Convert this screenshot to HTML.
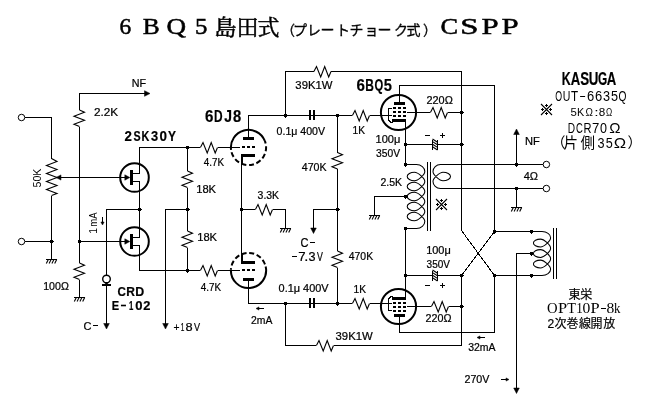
<!DOCTYPE html>
<html><head><meta charset="utf-8"><title>6BQ5 CSPP</title>
<style>html,body{margin:0;padding:0;background:#fff}svg{display:block}text{font-kerning:none}</style>
</head><body>
<svg width="650" height="420" viewBox="0 0 650 420">
<rect width="650" height="420" fill="#fff"/>
<g stroke="#000" stroke-width="1" fill="none" shape-rendering="crispEdges">
<path d="M25,117.5 L51.5,117.5 L51.5,158.5"/>
<path d="M51.5,158.5 L57,161.5 L46.5,165.5 L57,169.5 L46.5,173.5 L57,177.5 L46.5,181.5 L57,185.5 L46.5,189.5 L57,193.5 L51.5,195.5" shape-rendering="geometricPrecision" stroke-width="1.1" stroke-linejoin="miter"/>
<path d="M51.5,195.5 L51.5,259.5"/>
<path d="M25,241.5 L51.5,241.5"/>
<path d="M46,259.5 L57,259.5"/>
<path d="M48.3,259.5 L46.3,263.5" shape-rendering="geometricPrecision" stroke-width="1.1" stroke-linejoin="miter"/>
<path d="M51.1,259.5 L49.1,263.5" shape-rendering="geometricPrecision" stroke-width="1.1" stroke-linejoin="miter"/>
<path d="M53.9,259.5 L51.9,263.5" shape-rendering="geometricPrecision" stroke-width="1.1" stroke-linejoin="miter"/>
<path d="M56.7,259.5 L54.7,263.5" shape-rendering="geometricPrecision" stroke-width="1.1" stroke-linejoin="miter"/>
<rect x="50" y="240" width="3" height="3" fill="#000" stroke="none"/>
<rect x="51" y="239.5" width="1" height="4" fill="#000" stroke="none"/><rect x="49.5" y="241" width="4" height="1" fill="#000" stroke="none"/>
<path d="M58,177.5 L129,177.5"/>
<polygon points="56,177.5 61,174.9 61,180.1" fill="#000" stroke="#000" stroke-width="0.5" stroke-linejoin="miter" shape-rendering="geometricPrecision"/>
<path d="M79.5,110 L79.5,93.5 L145,93.5"/>
<polygon points="150,93.5 144.5,90.7 144.5,96.3" fill="#000" stroke="#000" stroke-width="0.5" stroke-linejoin="miter" shape-rendering="geometricPrecision"/>
<path d="M79.5,110 L84.5,112.3 L74,116.3 L84.5,120.3 L74,124.3 L79.5,126.5" shape-rendering="geometricPrecision" stroke-width="1.1" stroke-linejoin="miter"/>
<path d="M79.5,126.5 L79.5,263"/>
<path d="M79.5,263 L84.5,265.3 L74,269.3 L84.5,273.3 L74,277.3 L79.5,279.5" shape-rendering="geometricPrecision" stroke-width="1.1" stroke-linejoin="miter"/>
<path d="M79.5,279.5 L79.5,297.5"/>
<path d="M74,297.5 L85,297.5"/>
<path d="M76.3,297.5 L74.3,301.5" shape-rendering="geometricPrecision" stroke-width="1.1" stroke-linejoin="miter"/>
<path d="M79.1,297.5 L77.1,301.5" shape-rendering="geometricPrecision" stroke-width="1.1" stroke-linejoin="miter"/>
<path d="M81.9,297.5 L79.9,301.5" shape-rendering="geometricPrecision" stroke-width="1.1" stroke-linejoin="miter"/>
<path d="M84.7,297.5 L82.7,301.5" shape-rendering="geometricPrecision" stroke-width="1.1" stroke-linejoin="miter"/>
<rect x="78" y="240" width="3" height="3" fill="#000" stroke="none"/>
<rect x="79" y="239.5" width="1" height="4" fill="#000" stroke="none"/><rect x="77.5" y="241" width="4" height="1" fill="#000" stroke="none"/>
<path d="M79.5,241.5 L129,241.5"/>
<path d="M139.5,209.5 L106.5,209.5 L106.5,275"/>
<path d="M106.5,284 L106.5,324"/>
<polygon points="106.5,329 103.7,323.5 109.3,323.5" fill="#000" stroke="#000" stroke-width="0.5" stroke-linejoin="miter" shape-rendering="geometricPrecision"/>
<circle cx="106.5" cy="279" r="3.8" stroke-width="1.4" fill="#fff" shape-rendering="auto"/>
<polygon points="104.3,282.6 108.7,282.6 106.5,285" fill="#000" stroke="none" shape-rendering="auto"/>
<rect x="102" y="284" width="9" height="2" fill="#000" stroke="none"/>
<path d="M102.5,217 L102.5,222"/>
<polygon points="102.5,225 100.9,222 104.1,222" fill="#000" stroke="#000" stroke-width="0.5" stroke-linejoin="miter" shape-rendering="geometricPrecision"/>
<circle cx="134.5" cy="177.5" r="14.3" stroke-width="2" shape-rendering="auto"/>
<rect x="130" y="170" width="2.5" height="15" fill="#000" stroke="none"/>
<polygon points="129.8,177.5 124.8,174.8 124.8,180.2" fill="#000" stroke="#000" stroke-width="0.5" stroke-linejoin="miter" shape-rendering="geometricPrecision"/>
<circle cx="134.5" cy="241.5" r="14.3" stroke-width="2" shape-rendering="auto"/>
<rect x="130" y="234" width="2.5" height="15" fill="#000" stroke="none"/>
<polygon points="129.8,241.5 124.8,238.8 124.8,244.2" fill="#000" stroke="#000" stroke-width="0.5" stroke-linejoin="miter" shape-rendering="geometricPrecision"/>
<path d="M132,173.5 L139.5,173.5 L139.5,147.5 L200,147.5"/>
<path d="M132,181.5 L139.5,181.5 L139.5,237.5 L132,237.5"/>
<path d="M132,245.5 L139.5,245.5 L139.5,270.5 L200,270.5"/>
<rect x="138" y="208" width="3" height="3" fill="#000" stroke="none"/>
<rect x="139" y="207.5" width="1" height="4" fill="#000" stroke="none"/><rect x="137.5" y="209" width="4" height="1" fill="#000" stroke="none"/>
<path d="M200.4,147.5 L203,142.5 L207.2,153 L211.2,142.5 L215.2,153 L217.5,147.5" shape-rendering="geometricPrecision" stroke-width="1.1" stroke-linejoin="miter"/>
<path d="M217.5,147.5 L240,147.5"/>
<path d="M200.4,270.5 L203,265.5 L207.2,276 L211.2,265.5 L215.2,276 L217.5,270.5" shape-rendering="geometricPrecision" stroke-width="1.1" stroke-linejoin="miter"/>
<path d="M217.5,270.5 L240,270.5"/>
<rect x="186" y="146" width="3" height="3" fill="#000" stroke="none"/>
<rect x="187" y="145.5" width="1" height="4" fill="#000" stroke="none"/><rect x="185.5" y="147" width="4" height="1" fill="#000" stroke="none"/>
<rect x="186" y="208" width="3" height="3" fill="#000" stroke="none"/>
<rect x="187" y="207.5" width="1" height="4" fill="#000" stroke="none"/><rect x="185.5" y="209" width="4" height="1" fill="#000" stroke="none"/>
<rect x="186" y="269" width="3" height="3" fill="#000" stroke="none"/>
<rect x="187" y="268.5" width="1" height="4" fill="#000" stroke="none"/><rect x="185.5" y="270" width="4" height="1" fill="#000" stroke="none"/>
<path d="M187.5,147.5 L187.5,171"/>
<path d="M187.5,171 L192.5,173.3 L182,177.3 L192.5,181.3 L182,185.3 L187.5,187.5" shape-rendering="geometricPrecision" stroke-width="1.1" stroke-linejoin="miter"/>
<path d="M187.5,187.5 L187.5,231"/>
<path d="M187.5,231 L192.5,233.3 L182,237.3 L192.5,241.3 L182,245.3 L187.5,247.5" shape-rendering="geometricPrecision" stroke-width="1.1" stroke-linejoin="miter"/>
<path d="M187.5,247.5 L187.5,270.5"/>
<path d="M187.5,209.5 L165.5,209.5 L165.5,324"/>
<polygon points="165.5,329 162.7,323.5 168.3,323.5" fill="#000" stroke="#000" stroke-width="0.5" stroke-linejoin="miter" shape-rendering="geometricPrecision"/>
<path d="M264.82,140.91 A17.6,17.6 0 0 0 231.07,149.95" stroke-width="2" shape-rendering="auto"/>
<path d="M231.07,149.95 A17.6,17.6 0 1 0 264.82,140.91" stroke-width="2" stroke-dasharray="5 2.7" stroke-dashoffset="-2.4" shape-rendering="auto"/>
<rect x="243" y="137" width="11" height="3" fill="#000" stroke="none"/>
<rect x="242" y="146.3" width="3.3" height="2" fill="#000" stroke="none"/>
<rect x="247" y="146.3" width="3.3" height="2" fill="#000" stroke="none"/>
<rect x="252" y="146.3" width="3.3" height="2" fill="#000" stroke="none"/>
<rect x="241" y="154" width="14" height="3" fill="#000" stroke="none"/>
<rect x="240.7" y="155.5" width="2" height="9" fill="#000" stroke="none"/>
<path d="M230.92,269.58 A17.6,17.6 0 1 0 265.65,266.54" stroke-width="2" shape-rendering="auto"/>
<path d="M265.65,266.54 A17.6,17.6 0 0 0 230.92,269.58" stroke-width="2" stroke-dasharray="5 2.7" stroke-dashoffset="-2.4" shape-rendering="auto"/>
<rect x="243" y="278" width="11" height="3" fill="#000" stroke="none"/>
<rect x="242" y="269.3" width="3.3" height="2" fill="#000" stroke="none"/>
<rect x="247" y="269.3" width="3.3" height="2" fill="#000" stroke="none"/>
<rect x="252" y="269.3" width="3.3" height="2" fill="#000" stroke="none"/>
<rect x="241" y="261" width="14" height="3" fill="#000" stroke="none"/>
<rect x="240.7" y="253.5" width="2" height="9" fill="#000" stroke="none"/>
<path d="M248.5,137 L248.5,115.5 L352,115.5"/>
<path d="M241.5,156 L241.5,262"/>
<rect x="240" y="208" width="3" height="3" fill="#000" stroke="none"/>
<rect x="241" y="207.5" width="1" height="4" fill="#000" stroke="none"/><rect x="239.5" y="209" width="4" height="1" fill="#000" stroke="none"/>
<path d="M241.5,209.5 L255,209.5"/>
<path d="M255.4,209.5 L258,204.5 L262.2,215 L266.2,204.5 L270.2,215 L272.5,209.5" shape-rendering="geometricPrecision" stroke-width="1.1" stroke-linejoin="miter"/>
<path d="M272.5,209.5 L285.5,209.5 L285.5,228.5"/>
<path d="M280,228.5 L291,228.5"/>
<path d="M282.3,228.5 L280.3,232.5" shape-rendering="geometricPrecision" stroke-width="1.1" stroke-linejoin="miter"/>
<path d="M285.1,228.5 L283.1,232.5" shape-rendering="geometricPrecision" stroke-width="1.1" stroke-linejoin="miter"/>
<path d="M287.9,228.5 L285.9,232.5" shape-rendering="geometricPrecision" stroke-width="1.1" stroke-linejoin="miter"/>
<path d="M290.7,228.5 L288.7,232.5" shape-rendering="geometricPrecision" stroke-width="1.1" stroke-linejoin="miter"/>
<rect x="284" y="114" width="3" height="3" fill="#000" stroke="none"/>
<rect x="285" y="113.5" width="1" height="4" fill="#000" stroke="none"/><rect x="283.5" y="115" width="4" height="1" fill="#000" stroke="none"/>
<rect x="308.5" y="110" width="2" height="10" fill="#000" stroke="none"/>
<rect x="312.5" y="110" width="2" height="10" fill="#000" stroke="none"/>
<rect x="336" y="114" width="3" height="3" fill="#000" stroke="none"/>
<rect x="337" y="113.5" width="1" height="4" fill="#000" stroke="none"/><rect x="335.5" y="115" width="4" height="1" fill="#000" stroke="none"/>
<path d="M352.4,115.5 L355,110.5 L359.2,121 L363.2,110.5 L367.2,121 L369.5,115.5" shape-rendering="geometricPrecision" stroke-width="1.1" stroke-linejoin="miter"/>
<path d="M369.5,115.5 L391.5,115.5"/>
<path d="M285.5,115.5 L285.5,71.5 L313.5,71.5"/>
<path d="M313.9,71.5 L316.5,66.5 L320.7,77 L324.7,66.5 L328.7,77 L331,71.5" shape-rendering="geometricPrecision" stroke-width="1.1" stroke-linejoin="miter"/>
<path d="M331,71.5 L461.5,71.5 L461.5,230.5 L494.5,275.5"/>
<path d="M337.5,115.5 L337.5,152.5"/>
<path d="M337.5,152.5 L342.5,154.8 L332,158.8 L342.5,162.8 L332,166.8 L337.5,169" shape-rendering="geometricPrecision" stroke-width="1.1" stroke-linejoin="miter"/>
<path d="M337.5,169 L337.5,251"/>
<path d="M337.5,251 L342.5,253.3 L332,257.3 L342.5,261.3 L332,265.3 L337.5,267.5" shape-rendering="geometricPrecision" stroke-width="1.1" stroke-linejoin="miter"/>
<path d="M337.5,267.5 L337.5,303.5"/>
<rect x="336" y="208" width="3" height="3" fill="#000" stroke="none"/>
<rect x="337" y="207.5" width="1" height="4" fill="#000" stroke="none"/><rect x="335.5" y="209" width="4" height="1" fill="#000" stroke="none"/>
<path d="M337.5,209.5 L313.5,209.5 L313.5,228.5"/>
<polygon points="313.5,233.5 310.7,228 316.3,228" fill="#000" stroke="#000" stroke-width="0.5" stroke-linejoin="miter" shape-rendering="geometricPrecision"/>
<path d="M248.5,281 L248.5,303.5 L352,303.5"/>
<path d="M352.4,303.5 L355,298.5 L359.2,309 L363.2,298.5 L367.2,309 L369.5,303.5" shape-rendering="geometricPrecision" stroke-width="1.1" stroke-linejoin="miter"/>
<path d="M369.5,303.5 L391.5,303.5"/>
<rect x="284" y="302" width="3" height="3" fill="#000" stroke="none"/>
<rect x="285" y="301.5" width="1" height="4" fill="#000" stroke="none"/><rect x="283.5" y="303" width="4" height="1" fill="#000" stroke="none"/>
<rect x="308.5" y="298" width="2" height="10" fill="#000" stroke="none"/>
<rect x="312.5" y="298" width="2" height="10" fill="#000" stroke="none"/>
<rect x="336" y="302" width="3" height="3" fill="#000" stroke="none"/>
<rect x="337" y="301.5" width="1" height="4" fill="#000" stroke="none"/><rect x="335.5" y="303" width="4" height="1" fill="#000" stroke="none"/>
<path d="M285.5,303.5 L285.5,345.5 L316,345.5"/>
<path d="M316.4,345.5 L319,340.5 L323.2,351 L327.2,340.5 L331.2,351 L333.5,345.5" shape-rendering="geometricPrecision" stroke-width="1.1" stroke-linejoin="miter"/>
<path d="M333.5,345.5 L461.5,345.5 L461.5,275.5"/>
<circle cx="398.5" cy="112.5" r="17.6" stroke-width="2" shape-rendering="auto"/>
<rect x="394" y="102" width="11" height="3" fill="#000" stroke="none"/>
<rect x="393" y="107.2" width="2.8" height="2" fill="#000" stroke="none"/>
<rect x="398" y="107.2" width="2.8" height="2" fill="#000" stroke="none"/>
<rect x="403" y="107.2" width="2.8" height="2" fill="#000" stroke="none"/>
<rect x="393" y="111.2" width="2.8" height="2" fill="#000" stroke="none"/>
<rect x="398" y="111.2" width="2.8" height="2" fill="#000" stroke="none"/>
<rect x="403" y="111.2" width="2.8" height="2" fill="#000" stroke="none"/>
<rect x="393" y="114.9" width="2.8" height="2" fill="#000" stroke="none"/>
<rect x="398" y="114.9" width="2.8" height="2" fill="#000" stroke="none"/>
<rect x="403" y="114.9" width="2.8" height="2" fill="#000" stroke="none"/>
<rect x="392.2" y="119.3" width="13.6" height="2.4" fill="#000" stroke="none"/>
<path d="M391.5,108.3 L388.5,108.3 L388.5,120 L391,122.3 L393,122.3"/>
<rect x="404.5" y="120.5" width="1.6" height="6" fill="#000" stroke="none"/>
<circle cx="398.5" cy="306.5" r="17.6" stroke-width="2" shape-rendering="auto"/>
<rect x="394" y="314" width="11" height="3" fill="#000" stroke="none"/>
<rect x="393" y="309.8" width="2.8" height="2" fill="#000" stroke="none"/>
<rect x="398" y="309.8" width="2.8" height="2" fill="#000" stroke="none"/>
<rect x="403" y="309.8" width="2.8" height="2" fill="#000" stroke="none"/>
<rect x="393" y="305.8" width="2.8" height="2" fill="#000" stroke="none"/>
<rect x="398" y="305.8" width="2.8" height="2" fill="#000" stroke="none"/>
<rect x="403" y="305.8" width="2.8" height="2" fill="#000" stroke="none"/>
<rect x="393" y="302.1" width="2.8" height="2" fill="#000" stroke="none"/>
<rect x="398" y="302.1" width="2.8" height="2" fill="#000" stroke="none"/>
<rect x="403" y="302.1" width="2.8" height="2" fill="#000" stroke="none"/>
<rect x="392.2" y="297.3" width="13.6" height="2.4" fill="#000" stroke="none"/>
<path d="M391.5,310.7 L388.5,310.7 L388.5,299 L391,296.7 L393,296.7"/>
<rect x="404.5" y="292.5" width="1.6" height="6" fill="#000" stroke="none"/>
<path d="M399.5,102 L399.5,85.5 L494.5,85.5 L494.5,231.5 L531.5,231.5"/>
<path d="M494.5,231.5 L461.5,275.5"/>
<path d="M407,112.5 L430,112.5"/>
<path d="M430.4,112.5 L433,107.5 L437.2,118 L441.2,107.5 L445.2,118 L447.5,112.5" shape-rendering="geometricPrecision" stroke-width="1.1" stroke-linejoin="miter"/>
<path d="M447.5,112.5 L461.5,112.5"/>
<rect x="460" y="111" width="3" height="3" fill="#000" stroke="none"/>
<rect x="461" y="110.5" width="1" height="4" fill="#000" stroke="none"/><rect x="459.5" y="112" width="4" height="1" fill="#000" stroke="none"/>
<path d="M407,306.5 L431,306.5"/>
<path d="M431.4,306.5 L434,301.5 L438.2,312 L442.2,301.5 L446.2,312 L448.5,306.5" shape-rendering="geometricPrecision" stroke-width="1.1" stroke-linejoin="miter"/>
<path d="M448.5,306.5 L461.5,306.5"/>
<rect x="460" y="305" width="3" height="3" fill="#000" stroke="none"/>
<rect x="461" y="304.5" width="1" height="4" fill="#000" stroke="none"/><rect x="459.5" y="306" width="4" height="1" fill="#000" stroke="none"/>
<path d="M405.5,121 L405.5,164.5"/>
<path d="M405.5,228.5 L405.5,298"/>
<rect x="404" y="143" width="3" height="3" fill="#000" stroke="none"/>
<rect x="405" y="142.5" width="1" height="4" fill="#000" stroke="none"/><rect x="403.5" y="144" width="4" height="1" fill="#000" stroke="none"/>
<rect x="404" y="163" width="3" height="3" fill="#000" stroke="none"/>
<rect x="405" y="162.5" width="1" height="4" fill="#000" stroke="none"/><rect x="403.5" y="164" width="4" height="1" fill="#000" stroke="none"/>
<rect x="404" y="274" width="3" height="3" fill="#000" stroke="none"/>
<rect x="405" y="273.5" width="1" height="4" fill="#000" stroke="none"/><rect x="403.5" y="275" width="4" height="1" fill="#000" stroke="none"/>
<rect x="404" y="227" width="3" height="3" fill="#000" stroke="none"/>
<rect x="405" y="226.5" width="1" height="4" fill="#000" stroke="none"/><rect x="403.5" y="228" width="4" height="1" fill="#000" stroke="none"/>
<path d="M405.5,144.5 L461.5,144.5"/>
<rect x="432" y="139.5" width="6" height="10" fill="#fff" stroke="none"/>
<path d="M432.5,139.5 L432.5,150"/>
<path d="M437.5,139.5 L437.5,150"/>
<path d="M432.5,139 L437.5,142.2" shape-rendering="geometricPrecision" stroke-width="1.1" stroke-linejoin="miter"/>
<path d="M432.5,141.6 L437.5,144.8" shape-rendering="geometricPrecision" stroke-width="1.1" stroke-linejoin="miter"/>
<path d="M432.5,144.2 L437.5,147.4" shape-rendering="geometricPrecision" stroke-width="1.1" stroke-linejoin="miter"/>
<path d="M432.5,146.8 L437.5,150" shape-rendering="geometricPrecision" stroke-width="1.1" stroke-linejoin="miter"/>
<rect x="460" y="143" width="3" height="3" fill="#000" stroke="none"/>
<rect x="461" y="142.5" width="1" height="4" fill="#000" stroke="none"/><rect x="459.5" y="144" width="4" height="1" fill="#000" stroke="none"/>
<path d="M405.5,275.5 L461.5,275.5"/>
<rect x="432" y="270.5" width="6" height="10" fill="#fff" stroke="none"/>
<path d="M432.5,270.5 L432.5,281"/>
<path d="M437.5,270.5 L437.5,281"/>
<path d="M432.5,270 L437.5,273.2" shape-rendering="geometricPrecision" stroke-width="1.1" stroke-linejoin="miter"/>
<path d="M432.5,272.6 L437.5,275.8" shape-rendering="geometricPrecision" stroke-width="1.1" stroke-linejoin="miter"/>
<path d="M432.5,275.2 L437.5,278.4" shape-rendering="geometricPrecision" stroke-width="1.1" stroke-linejoin="miter"/>
<path d="M432.5,277.8 L437.5,281" shape-rendering="geometricPrecision" stroke-width="1.1" stroke-linejoin="miter"/>
<rect x="460" y="274" width="3" height="3" fill="#000" stroke="none"/>
<rect x="461" y="273.5" width="1" height="4" fill="#000" stroke="none"/><rect x="459.5" y="275" width="4" height="1" fill="#000" stroke="none"/>
<path d="M399.5,317 L399.5,332.5 L494.5,332.5 L494.5,275.5 L531.5,275.5"/>
<rect x="493" y="230" width="3" height="3" fill="#000" stroke="none"/>
<rect x="494" y="229.5" width="1" height="4" fill="#000" stroke="none"/><rect x="492.5" y="231" width="4" height="1" fill="#000" stroke="none"/>
<rect x="493" y="274" width="3" height="3" fill="#000" stroke="none"/>
<rect x="494" y="273.5" width="1" height="4" fill="#000" stroke="none"/><rect x="492.5" y="275" width="4" height="1" fill="#000" stroke="none"/>
<rect x="530" y="230" width="3" height="3" fill="#000" stroke="none"/>
<rect x="531" y="229.5" width="1" height="4" fill="#000" stroke="none"/><rect x="529.5" y="231" width="4" height="1" fill="#000" stroke="none"/>
<rect x="530" y="274" width="3" height="3" fill="#000" stroke="none"/>
<rect x="531" y="273.5" width="1" height="4" fill="#000" stroke="none"/><rect x="529.5" y="275" width="4" height="1" fill="#000" stroke="none"/>
<rect x="530" y="252" width="3" height="3" fill="#000" stroke="none"/>
<rect x="531" y="251.5" width="1" height="4" fill="#000" stroke="none"/><rect x="529.5" y="253" width="4" height="1" fill="#000" stroke="none"/>
<rect x="404" y="195" width="3" height="3" fill="#000" stroke="none"/>
<rect x="405" y="194.5" width="1" height="4" fill="#000" stroke="none"/><rect x="403.5" y="196" width="4" height="1" fill="#000" stroke="none"/>
<path d="M407,196.5 L374.5,196.5 L374.5,215.5"/>
<path d="M369,215.5 L380,215.5"/>
<path d="M371.3,215.5 L369.3,219.5" shape-rendering="geometricPrecision" stroke-width="1.1" stroke-linejoin="miter"/>
<path d="M374.1,215.5 L372.1,219.5" shape-rendering="geometricPrecision" stroke-width="1.1" stroke-linejoin="miter"/>
<path d="M376.9,215.5 L374.9,219.5" shape-rendering="geometricPrecision" stroke-width="1.1" stroke-linejoin="miter"/>
<path d="M379.7,215.5 L377.7,219.5" shape-rendering="geometricPrecision" stroke-width="1.1" stroke-linejoin="miter"/>
<path d="M405.5,164.5 H416.5  C421.06,164.5 424.8,167.65 424.8,171.50 C424.8,174.83 417.90,180.75 414.5,180.75 C410.49,180.75 407.2,178.84 407.2,176.50 C407.2,174.16 410.49,172.25 414.5,172.25 C417.90,172.25 424.8,178.17 424.8,181.50 C424.8,184.83 417.90,190.75 414.5,190.75 C410.49,190.75 407.2,188.84 407.2,186.50 C407.2,184.16 410.49,182.25 414.5,182.25 C417.90,182.25 424.8,188.17 424.8,191.50 C424.8,194.83 417.90,200.75 414.5,200.75 C410.49,200.75 407.2,198.84 407.2,196.50 C407.2,194.16 410.49,192.25 414.5,192.25 C417.90,192.25 424.8,198.17 424.8,201.50 C424.8,204.83 417.90,210.75 414.5,210.75 C410.49,210.75 407.2,208.84 407.2,206.50 C407.2,204.16 410.49,202.25 414.5,202.25 C417.90,202.25 424.8,208.17 424.8,211.50 C424.8,214.83 417.90,220.75 414.5,220.75 C410.49,220.75 407.2,218.84 407.2,216.50 C407.2,214.16 410.49,212.25 414.5,212.25 C417.90,212.25 424.8,218.17 424.8,221.50 C424.8,225.35 421.06,228.5 416.5,228.5 H405.5" shape-rendering="geometricPrecision" stroke-width="1.05"/>
<path d="M427.5,162 L427.5,231"/>
<path d="M430.5,162 L430.5,231"/>
<path d="M543,164.5 H440.5  C436.38,164.5 433,167.65 433,171.50 C433,174.83 439.70,180.75 443,180.75 C447.12,180.75 450.5,178.84 450.5,176.50 C450.5,174.16 447.12,172.25 443,172.25 C439.70,172.25 433,178.17 433,181.50 C433,185.35 436.38,188.5 440.5,188.5 H543" shape-rendering="geometricPrecision" stroke-width="1.05"/>
<circle cx="546.4" cy="164.5" r="3.25" fill="#fff" stroke="#000" stroke-width="1" shape-rendering="auto"/>
<circle cx="546.4" cy="188.5" r="3.25" fill="#fff" stroke="#000" stroke-width="1" shape-rendering="auto"/>
<rect x="515" y="163" width="3" height="3" fill="#000" stroke="none"/>
<rect x="516" y="162.5" width="1" height="4" fill="#000" stroke="none"/><rect x="514.5" y="164" width="4" height="1" fill="#000" stroke="none"/>
<path d="M516.5,164.5 L516.5,134"/>
<polygon points="516.5,129 513.7,134.5 519.3,134.5" fill="#000" stroke="#000" stroke-width="0.5" stroke-linejoin="miter" shape-rendering="geometricPrecision"/>
<rect x="515" y="187" width="3" height="3" fill="#000" stroke="none"/>
<rect x="516" y="186.5" width="1" height="4" fill="#000" stroke="none"/><rect x="514.5" y="188" width="4" height="1" fill="#000" stroke="none"/>
<path d="M516.5,188.5 L516.5,207.5"/>
<path d="M511,207.5 L522,207.5"/>
<path d="M513.3,207.5 L511.3,211.5" shape-rendering="geometricPrecision" stroke-width="1.1" stroke-linejoin="miter"/>
<path d="M516.1,207.5 L514.1,211.5" shape-rendering="geometricPrecision" stroke-width="1.1" stroke-linejoin="miter"/>
<path d="M518.9,207.5 L516.9,211.5" shape-rendering="geometricPrecision" stroke-width="1.1" stroke-linejoin="miter"/>
<path d="M521.7,207.5 L519.7,211.5" shape-rendering="geometricPrecision" stroke-width="1.1" stroke-linejoin="miter"/>
<path d="M531.5,231.5 H542  C546.73,231.5 550.6,234.31 550.6,237.75 C550.6,241.04 543.83,246.90 540.5,246.90 C536.60,246.90 533.4,245.15 533.4,243.00 C533.4,240.85 536.60,239.10 540.5,239.10 C543.83,239.10 550.6,244.96 550.6,248.25 C550.6,251.54 543.83,257.40 540.5,257.40 C536.60,257.40 533.4,255.65 533.4,253.50 C533.4,251.35 536.60,249.60 540.5,249.60 C543.83,249.60 550.6,255.46 550.6,258.75 C550.6,262.04 543.83,267.90 540.5,267.90 C536.60,267.90 533.4,266.14 533.4,264.00 C533.4,261.86 536.60,260.10 540.5,260.10 C543.83,260.10 550.6,265.96 550.6,269.25 C550.6,272.69 546.73,275.5 542,275.5 H531.5" shape-rendering="geometricPrecision" stroke-width="1.05"/>
<path d="M553.5,228 L553.5,278.5"/>
<path d="M556.5,228 L556.5,278.5"/>
<path d="M531.5,253.5 L516.5,253.5 L516.5,388"/>
<polygon points="516.5,393.5 513.7,388 519.3,388" fill="#000" stroke="#000" stroke-width="0.5" stroke-linejoin="miter" shape-rendering="geometricPrecision"/>
<path d="M258,308.5 L264,308.5"/>
<polygon points="256,308.5 259,306.9 259,310.1" fill="#000" stroke="#000" stroke-width="0.5" stroke-linejoin="miter" shape-rendering="geometricPrecision"/>
<path d="M479,337.5 L485,337.5"/>
<polygon points="477,337.5 480,335.9 480,339.1" fill="#000" stroke="#000" stroke-width="0.5" stroke-linejoin="miter" shape-rendering="geometricPrecision"/>
<path d="M501,379.5 L506,379.5"/>
<polygon points="509,379.5 506,377.9 506,381.1" fill="#000" stroke="#000" stroke-width="0.5" stroke-linejoin="miter" shape-rendering="geometricPrecision"/>
<path d="M425,135.5 L430,135.5"/>
<path d="M440,135.5 L445,135.5"/>
<path d="M442.5,133 L442.5,138"/>
<path d="M425,285.5 L430,285.5"/>
<path d="M440,285.5 L445,285.5"/>
<path d="M442.5,283 L442.5,288"/>
</g>
<circle cx="21.5" cy="117.5" r="3.25" fill="#fff" stroke="#000" stroke-width="1" shape-rendering="auto"/>
<circle cx="21.5" cy="241.5" r="3.25" fill="#fff" stroke="#000" stroke-width="1" shape-rendering="auto"/>
<filter id="ga" x="0" y="0" width="650" height="420" filterUnits="userSpaceOnUse"><feOffset dx="0" dy="0"/></filter>
<g fill="#000" style="font-kerning:none" filter="url(#ga)">
<text transform="translate(131.72,86.80) scale(0.998,1)" style="font-family:&quot;Liberation Sans&quot;" font-size="10.76" stroke="#000" stroke-width="0.22">NF</text>
<text transform="translate(93.91,116.20) scale(1.068,1)" style="font-family:&quot;Liberation Sans&quot;" font-size="11.03" stroke="#000" stroke-width="0.22">2.2K</text>
<text transform="translate(41.20,187.53) rotate(-90) scale(0.934,1)" style="font-family:&quot;Liberation Sans&quot;" font-size="11.46">50K</text>
<text transform="translate(97.40,233.80) rotate(-90) scale(0.898,1)" style="font-family:&quot;Liberation Sans&quot;" font-size="11.63">1</text>
<text transform="translate(97.40,226.63) rotate(-90) scale(0.817,1)" style="font-family:&quot;Liberation Sans&quot;" font-size="11.63">mA</text>
<text transform="translate(203.77,166.20) scale(0.945,1)" style="font-family:&quot;Liberation Sans&quot;" font-size="10.47" stroke="#000" stroke-width="0.22">4.7K</text>
<text transform="translate(196.14,192.60) scale(1.089,1)" style="font-family:&quot;Liberation Sans&quot;" font-size="10.31" stroke="#000" stroke-width="0.22">18K</text>
<text transform="translate(197.14,240.60) scale(1.089,1)" style="font-family:&quot;Liberation Sans&quot;" font-size="10.31" stroke="#000" stroke-width="0.22">18K</text>
<text transform="translate(200.77,291.20) scale(0.945,1)" style="font-family:&quot;Liberation Sans&quot;" font-size="10.47" stroke="#000" stroke-width="0.22">4.7K</text>
<text transform="translate(43.19,290.00) scale(1.002,1)" style="font-family:&quot;Liberation Sans&quot;" font-size="10.60" stroke="#000" stroke-width="0.22">100Ω</text>
<text transform="translate(83.44,329.60) scale(0.941,1)" style="font-family:&quot;Liberation Sans&quot;" font-size="11.74" stroke="#000" stroke-width="0.22">C</text>
<rect x="93" y="325" width="5" height="1" shape-rendering="crispEdges"/>
<text transform="translate(173.50,331.20) scale(0.957,1)" style="font-family:&quot;Liberation Sans&quot;" font-size="10.76" stroke="#000" stroke-width="0.22">+</text>
<text transform="translate(180.71,331.20) scale(0.604,1)" style="font-family:&quot;Liberation Sans&quot;" font-size="10.76" stroke="#000" stroke-width="0.22">1</text>
<text transform="translate(185.44,331.20) scale(1.189,1)" style="font-family:&quot;Liberation Sans&quot;" font-size="10.76" stroke="#000" stroke-width="0.22">8</text>
<text transform="translate(193.96,331.20) scale(0.848,1)" style="font-family:&quot;Liberation Sans&quot;" font-size="10.76" stroke="#000" stroke-width="0.22">V</text>
<text transform="translate(295.37,88.50) scale(1.084,1)" style="font-family:&quot;Liberation Sans&quot;" font-size="10.45" stroke="#000" stroke-width="0.22">39K1W</text>
<text transform="translate(335.57,339.60) scale(1.070,1)" style="font-family:&quot;Liberation Sans&quot;" font-size="10.60" stroke="#000" stroke-width="0.22">39K1W</text>
<text transform="translate(276.59,134.60) scale(1.041,1)" style="font-family:&quot;Liberation Sans&quot;" font-size="10.17" stroke="#000" stroke-width="0.22">0.1μ 400V</text>
<text transform="translate(278.57,291.60) scale(1.060,1)" style="font-family:&quot;Liberation Sans&quot;" font-size="10.31" stroke="#000" stroke-width="0.22">0.1μ 400V</text>
<text transform="translate(352.62,134.00) scale(1.004,1)" style="font-family:&quot;Liberation Sans&quot;" font-size="10.17" stroke="#000" stroke-width="0.22">1K</text>
<text transform="translate(353.62,292.60) scale(1.004,1)" style="font-family:&quot;Liberation Sans&quot;" font-size="10.17" stroke="#000" stroke-width="0.22">1K</text>
<text transform="translate(426.45,103.60) scale(1.060,1)" style="font-family:&quot;Liberation Sans&quot;" font-size="10.31" stroke="#000" stroke-width="0.22">220Ω</text>
<text transform="translate(425.46,322.40) scale(1.016,1)" style="font-family:&quot;Liberation Sans&quot;" font-size="10.60" stroke="#000" stroke-width="0.22">220Ω</text>
<text transform="translate(301.76,171.00) scale(1.000,1)" style="font-family:&quot;Liberation Sans&quot;" font-size="10.60" stroke="#000" stroke-width="0.22">470K</text>
<text transform="translate(348.76,260.00) scale(0.984,1)" style="font-family:&quot;Liberation Sans&quot;" font-size="10.60" stroke="#000" stroke-width="0.22">470K</text>
<text transform="translate(257.60,198.60) scale(1.014,1)" style="font-family:&quot;Liberation Sans&quot;" font-size="10.31" stroke="#000" stroke-width="0.22">3.3K</text>
<text transform="translate(300.44,246.80) scale(0.919,1)" style="font-family:&quot;Liberation Sans&quot;" font-size="12.03" stroke="#000" stroke-width="0.22">C</text>
<rect x="310" y="242" width="5" height="1" shape-rendering="crispEdges"/>
<rect x="292" y="256" width="4.5" height="1" shape-rendering="crispEdges"/>
<text transform="translate(298.32,260.80) scale(1.081,1)" style="font-family:&quot;Liberation Sans&quot;" font-size="12.21" stroke="#000" stroke-width="0.22">7</text>
<text transform="translate(304.26,260.80) scale(1.204,1)" style="font-family:&quot;Liberation Sans&quot;" font-size="12.21" stroke="#000" stroke-width="0.22">.</text>
<text transform="translate(308.52,260.80) scale(1.036,1)" style="font-family:&quot;Liberation Sans&quot;" font-size="12.21" stroke="#000" stroke-width="0.22">3</text>
<text transform="translate(316.96,260.80) scale(0.722,1)" style="font-family:&quot;Liberation Sans&quot;" font-size="12.21" stroke="#000" stroke-width="0.22">V</text>
<text transform="translate(251.08,323.60) scale(0.954,1)" style="font-family:&quot;Liberation Sans&quot;" font-size="10.88" stroke="#000" stroke-width="0.22">2mA</text>
<text transform="translate(375.56,142.80) scale(1.058,1)" style="font-family:&quot;Liberation Sans&quot;" font-size="10.47" stroke="#000" stroke-width="0.22">100μ</text>
<text transform="translate(376.01,157.00) scale(0.971,1)" style="font-family:&quot;Liberation Sans&quot;" font-size="10.60" stroke="#000" stroke-width="0.22">350V</text>
<text transform="translate(426.16,253.80) scale(1.049,1)" style="font-family:&quot;Liberation Sans&quot;" font-size="10.47" stroke="#000" stroke-width="0.22">100μ</text>
<text transform="translate(426.62,268.00) scale(0.946,1)" style="font-family:&quot;Liberation Sans&quot;" font-size="10.60" stroke="#000" stroke-width="0.22">350V</text>
<text transform="translate(380.47,186.00) scale(0.993,1)" style="font-family:&quot;Liberation Sans&quot;" font-size="10.60" stroke="#000" stroke-width="0.22">2.5K</text>
<text transform="translate(468.20,351.00) scale(0.964,1)" style="font-family:&quot;Liberation Sans&quot;" font-size="10.88" stroke="#000" stroke-width="0.22">32mA</text>
<text transform="translate(464.46,382.80) scale(1.009,1)" style="font-family:&quot;Liberation Sans&quot;" font-size="10.60" stroke="#000" stroke-width="0.22">270V</text>
<text transform="translate(525.09,145.00) scale(1.029,1)" style="font-family:&quot;Liberation Sans&quot;" font-size="10.76" stroke="#000" stroke-width="0.22">NF</text>
<text transform="translate(523.75,180.00) scale(1.037,1)" style="font-family:&quot;Liberation Sans&quot;" font-size="10.60" stroke="#000" stroke-width="0.22">4Ω</text>
<text transform="translate(124.54,140.60) scale(0.928,1)" style="font-family:&quot;Liberation Sans&quot;" font-size="14.32" font-weight="bold" stroke="#000" stroke-width="0.2">2</text>
<text transform="translate(133.44,140.60) scale(0.746,1)" style="font-family:&quot;Liberation Sans&quot;" font-size="14.32" font-weight="bold" stroke="#000" stroke-width="0.2">S</text>
<text transform="translate(141.48,140.60) scale(0.757,1)" style="font-family:&quot;Liberation Sans&quot;" font-size="14.32" font-weight="bold" stroke="#000" stroke-width="0.2">K</text>
<text transform="translate(150.95,140.60) scale(0.899,1)" style="font-family:&quot;Liberation Sans&quot;" font-size="14.32" font-weight="bold" stroke="#000" stroke-width="0.2">3</text>
<text transform="translate(159.47,140.60) scale(0.940,1)" style="font-family:&quot;Liberation Sans&quot;" font-size="14.32" font-weight="bold" stroke="#000" stroke-width="0.2">0</text>
<text transform="translate(167.95,140.60) scale(0.837,1)" style="font-family:&quot;Liberation Sans&quot;" font-size="14.32" font-weight="bold" stroke="#000" stroke-width="0.2">Y</text>
<text transform="translate(205.05,122.00) scale(0.959,1)" style="font-family:&quot;Liberation Sans&quot;" font-size="15.75" font-weight="bold" stroke="#000" stroke-width="0.2">6</text>
<text transform="translate(214.10,122.00) scale(0.756,1)" style="font-family:&quot;Liberation Sans&quot;" font-size="15.75" font-weight="bold" stroke="#000" stroke-width="0.2">D</text>
<text transform="translate(224.34,122.00) scale(0.886,1)" style="font-family:&quot;Liberation Sans&quot;" font-size="15.75" font-weight="bold" stroke="#000" stroke-width="0.2">J</text>
<text transform="translate(233.03,122.00) scale(0.939,1)" style="font-family:&quot;Liberation Sans&quot;" font-size="15.75" font-weight="bold" stroke="#000" stroke-width="0.2">8</text>
<text transform="translate(356.45,91.00) scale(0.879,1)" style="font-family:&quot;Liberation Sans&quot;" font-size="17.19" font-weight="bold" stroke="#000" stroke-width="0.2">6</text>
<text transform="translate(365.30,91.00) scale(0.696,1)" style="font-family:&quot;Liberation Sans&quot;" font-size="17.19" font-weight="bold" stroke="#000" stroke-width="0.2">B</text>
<text transform="translate(374.49,91.00) scale(0.653,1)" style="font-family:&quot;Liberation Sans&quot;" font-size="17.19" font-weight="bold" stroke="#000" stroke-width="0.2">Q</text>
<text transform="translate(383.85,91.00) scale(0.854,1)" style="font-family:&quot;Liberation Sans&quot;" font-size="17.19" font-weight="bold" stroke="#000" stroke-width="0.2">5</text>
<text transform="translate(561.77,84.60) scale(0.710,1)" style="font-family:&quot;Liberation Sans&quot;" font-size="17.44" font-weight="bold" stroke="#000" stroke-width="0.2">K</text>
<text transform="translate(570.87,84.60) scale(0.752,1)" style="font-family:&quot;Liberation Sans&quot;" font-size="17.44" font-weight="bold" stroke="#000" stroke-width="0.2">A</text>
<text transform="translate(580.22,84.60) scale(0.766,1)" style="font-family:&quot;Liberation Sans&quot;" font-size="17.44" font-weight="bold" stroke="#000" stroke-width="0.2">S</text>
<text transform="translate(588.80,84.60) scale(0.763,1)" style="font-family:&quot;Liberation Sans&quot;" font-size="17.44" font-weight="bold" stroke="#000" stroke-width="0.2">U</text>
<text transform="translate(598.11,84.60) scale(0.680,1)" style="font-family:&quot;Liberation Sans&quot;" font-size="17.44" font-weight="bold" stroke="#000" stroke-width="0.2">G</text>
<text transform="translate(606.87,84.60) scale(0.752,1)" style="font-family:&quot;Liberation Sans&quot;" font-size="17.44" font-weight="bold" stroke="#000" stroke-width="0.2">A</text>
<text transform="translate(117.52,295.60) scale(0.975,1)" style="font-family:&quot;Liberation Sans&quot;" font-size="11.92" font-weight="bold" stroke="#000" stroke-width="0.2">C</text>
<text transform="translate(126.20,295.60) scale(1.005,1)" style="font-family:&quot;Liberation Sans&quot;" font-size="11.92" font-weight="bold" stroke="#000" stroke-width="0.2">R</text>
<text transform="translate(135.17,295.60) scale(1.040,1)" style="font-family:&quot;Liberation Sans&quot;" font-size="11.92" font-weight="bold" stroke="#000" stroke-width="0.2">D</text>
<text transform="translate(111.86,309.60) scale(0.927,1)" style="font-family:&quot;Liberation Sans&quot;" font-size="11.92" font-weight="bold" stroke="#000" stroke-width="0.2">E</text>
<rect x="120.95" y="304.7" width="5" height="1.6"/>
<text transform="translate(128.91,309.60) scale(0.649,1)" style="font-family:&quot;Liberation Sans&quot;" font-size="11.92" font-weight="bold" stroke="#000" stroke-width="0.2">1</text>
<text transform="translate(135.33,309.60) scale(1.094,1)" style="font-family:&quot;Liberation Sans&quot;" font-size="11.92" font-weight="bold" stroke="#000" stroke-width="0.2">0</text>
<text transform="translate(143.15,309.60) scale(1.080,1)" style="font-family:&quot;Liberation Sans&quot;" font-size="11.92" font-weight="bold" stroke="#000" stroke-width="0.2">2</text>
<text transform="translate(555.18,101.40) scale(0.590,1)" style="font-family:&quot;Liberation Sans&quot;" font-size="14.89" stroke="none">O</text>
<text transform="translate(562.78,101.40) scale(0.709,1)" style="font-family:&quot;Liberation Sans&quot;" font-size="14.89" stroke="none">U</text>
<text transform="translate(571.04,101.40) scale(0.784,1)" style="font-family:&quot;Liberation Sans&quot;" font-size="14.89" stroke="none">T</text>
<rect x="580.1" y="96" width="5" height="1"/>
<text transform="translate(586.94,101.40) scale(0.873,1)" style="font-family:&quot;Liberation Sans&quot;" font-size="14.89" stroke="none">6</text>
<text transform="translate(594.94,101.40) scale(0.873,1)" style="font-family:&quot;Liberation Sans&quot;" font-size="14.89" stroke="none">6</text>
<text transform="translate(603.12,101.40) scale(0.850,1)" style="font-family:&quot;Liberation Sans&quot;" font-size="14.89" stroke="none">3</text>
<text transform="translate(611.09,101.40) scale(0.850,1)" style="font-family:&quot;Liberation Sans&quot;" font-size="14.89" stroke="none">5</text>
<text transform="translate(618.61,101.40) scale(0.688,1)" style="font-family:&quot;Liberation Sans&quot;" font-size="14.89" stroke="none">Q</text>
<text transform="translate(570.54,115.60) scale(1.031,1)" style="font-family:&quot;Liberation Sans&quot;" font-size="11.05" stroke="none">5</text>
<text transform="translate(577.11,115.60) scale(0.978,1)" style="font-family:&quot;Liberation Sans&quot;" font-size="11.05" stroke="none">K</text>
<text transform="translate(585.58,115.60) scale(0.902,1)" style="font-family:&quot;Liberation Sans&quot;" font-size="11.05" stroke="none">Ω</text>
<text transform="translate(594.26,115.60) scale(1.426,1)" style="font-family:&quot;Liberation Sans&quot;" font-size="11.05" stroke="none">:</text>
<text transform="translate(598.79,115.60) scale(1.061,1)" style="font-family:&quot;Liberation Sans&quot;" font-size="11.05" stroke="none">8</text>
<text transform="translate(606.05,115.60) scale(0.752,1)" style="font-family:&quot;Liberation Sans&quot;" font-size="11.05" stroke="none">Ω</text>
<text transform="translate(567.77,133.00) scale(0.667,1)" style="font-family:&quot;Liberation Sans&quot;" font-size="15.18" stroke="none">D</text>
<text transform="translate(576.12,133.00) scale(0.624,1)" style="font-family:&quot;Liberation Sans&quot;" font-size="15.18" stroke="none">C</text>
<text transform="translate(583.39,133.00) scale(0.732,1)" style="font-family:&quot;Liberation Sans&quot;" font-size="15.18" stroke="none">R</text>
<text transform="translate(591.92,133.00) scale(0.869,1)" style="font-family:&quot;Liberation Sans&quot;" font-size="15.18" stroke="none">7</text>
<text transform="translate(600.11,133.00) scale(0.827,1)" style="font-family:&quot;Liberation Sans&quot;" font-size="15.18" stroke="none">0</text>
<text transform="translate(609.36,133.00) scale(0.995,1)" style="font-family:&quot;Liberation Sans&quot;" font-size="15.18" stroke="none">Ω</text>
<text transform="translate(597.52,148.40) scale(0.850,1)" style="font-family:&quot;Liberation Sans&quot;" font-size="14.89" stroke="none">3</text>
<text transform="translate(605.69,148.40) scale(0.850,1)" style="font-family:&quot;Liberation Sans&quot;" font-size="14.89" stroke="none">5</text>
<text transform="translate(613.79,148.20) scale(1.137,1)" style="font-family:&quot;Liberation Sans&quot;" font-size="14.61" stroke="none">Ω</text>
<text transform="translate(547.00,313.00) scale(1.068,1)" style="font-family:&quot;Liberation Serif&quot;" font-size="13.74" stroke="none">O</text>
<text transform="translate(557.93,313.00) scale(1.194,1)" style="font-family:&quot;Liberation Serif&quot;" font-size="13.74" stroke="none">P</text>
<text transform="translate(567.14,313.00) scale(1.035,1)" style="font-family:&quot;Liberation Serif&quot;" font-size="13.74" stroke="none">T</text>
<text transform="translate(576.25,313.00) scale(0.951,1)" style="font-family:&quot;Liberation Serif&quot;" font-size="13.74" stroke="none">1</text>
<text transform="translate(582.41,313.00) scale(1.133,1)" style="font-family:&quot;Liberation Serif&quot;" font-size="13.74" stroke="none">0</text>
<text transform="translate(590.53,313.00) scale(1.194,1)" style="font-family:&quot;Liberation Serif&quot;" font-size="13.74" stroke="none">P</text>
<rect x="600.6" y="308" width="5" height="1" shape-rendering="crispEdges"/>
<text transform="translate(606.41,313.00) scale(1.133,1)" style="font-family:&quot;Liberation Serif&quot;" font-size="13.74" stroke="none">8</text>
<text transform="translate(613.95,313.00) scale(0.938,1)" style="font-family:&quot;Liberation Serif&quot;" font-size="13.74" stroke="none">k</text>
<text transform="translate(119.49,33.80) scale(1.057,1)" style="font-family:&quot;Liberation Serif&quot;" font-size="22.14" stroke="#000" stroke-width="0.5">6</text>
<text transform="translate(142.77,33.80) scale(1.149,1)" style="font-family:&quot;Liberation Serif&quot;" font-size="22.14" stroke="#000" stroke-width="0.5">B</text>
<text transform="translate(166.39,33.80) scale(1.224,1)" style="font-family:&quot;Liberation Serif&quot;" font-size="22.14" stroke="#000" stroke-width="0.5">Q</text>
<text transform="translate(195.06,33.80) scale(1.121,1)" style="font-family:&quot;Liberation Serif&quot;" font-size="22.14" stroke="#000" stroke-width="0.5">5</text>
<text transform="translate(440.42,33.80) scale(1.187,1)" style="font-family:&quot;Liberation Serif&quot;" font-size="22.14" stroke="#000" stroke-width="0.5">C</text>
<text transform="translate(460.31,33.80) scale(1.480,1)" style="font-family:&quot;Liberation Serif&quot;" font-size="22.14" stroke="#000" stroke-width="0.5">S</text>
<text transform="translate(481.61,33.80) scale(1.390,1)" style="font-family:&quot;Liberation Serif&quot;" font-size="22.14" stroke="#000" stroke-width="0.5">P</text>
<text transform="translate(501.61,33.80) scale(1.390,1)" style="font-family:&quot;Liberation Serif&quot;" font-size="22.14" stroke="#000" stroke-width="0.5">P</text>
<text transform="translate(547.39,328.00) scale(0.992,1)" style="font-family:&quot;Liberation Sans&quot;" font-size="12.17" stroke="#000" stroke-width="0.22">2</text>
<text x="214.5 236.5 257.5" y="35" style="font-family:&quot;Liberation Serif&quot;,&quot;Noto Serif CJK SC&quot;,serif" font-size="22" stroke="#000" stroke-width="0.5">島田式</text>
<text x="281 293 307 320.5 336 349.5 364.5 377.5 394 406.5 423" y="35" style="font-family:&quot;Liberation Sans&quot;,&quot;Noto Sans CJK JP&quot;,sans-serif" font-size="14" stroke="#000" stroke-width="0.3">（プレートチョーク式）</text>
<text x="551 563.5 580.5" y="148" style="font-family:&quot;Liberation Sans&quot;,&quot;Noto Sans CJK JP&quot;,sans-serif" font-size="14.5" stroke="none">（片側</text>
<text x="627.5" y="148" style="font-family:&quot;Liberation Sans&quot;,&quot;Noto Sans CJK JP&quot;,sans-serif" font-size="14.5" stroke="none">）</text>
<text x="568.4 580.3" y="299" style="font-family:&quot;Liberation Sans&quot;,&quot;Noto Sans CJK JP&quot;,sans-serif" font-size="12" stroke="#000" stroke-width="0.2">東栄</text>
<text x="554.4 566.6 578.9 590.6 603.3" y="328" style="font-family:&quot;Liberation Sans&quot;,&quot;Noto Sans CJK JP&quot;,sans-serif" font-size="12" stroke="#000" stroke-width="0.2">次巻線開放</text>
<g stroke="#000" stroke-width="1.1" shape-rendering="geometricPrecision"><path d="M541,104 L552,115 M552,104 L541,115"/></g>
<rect x="545" y="105" width="3" height="1" shape-rendering="crispEdges"/><rect x="546" y="104" width="1" height="3" shape-rendering="crispEdges"/>
<rect x="545" y="113" width="3" height="1" shape-rendering="crispEdges"/><rect x="546" y="112" width="1" height="3" shape-rendering="crispEdges"/>
<rect x="541" y="109" width="3" height="1" shape-rendering="crispEdges"/><rect x="542" y="108" width="1" height="3" shape-rendering="crispEdges"/>
<rect x="549" y="109" width="3" height="1" shape-rendering="crispEdges"/><rect x="550" y="108" width="1" height="3" shape-rendering="crispEdges"/>
<g stroke="#000" stroke-width="1.1" shape-rendering="geometricPrecision"><path d="M436,199 L447,210 M447,199 L436,210"/></g>
<rect x="440" y="200" width="3" height="1" shape-rendering="crispEdges"/><rect x="441" y="199" width="1" height="3" shape-rendering="crispEdges"/>
<rect x="440" y="208" width="3" height="1" shape-rendering="crispEdges"/><rect x="441" y="207" width="1" height="3" shape-rendering="crispEdges"/>
<rect x="436" y="204" width="3" height="1" shape-rendering="crispEdges"/><rect x="437" y="203" width="1" height="3" shape-rendering="crispEdges"/>
<rect x="444" y="204" width="3" height="1" shape-rendering="crispEdges"/><rect x="445" y="203" width="1" height="3" shape-rendering="crispEdges"/>
</g>
</svg>
</body></html>
